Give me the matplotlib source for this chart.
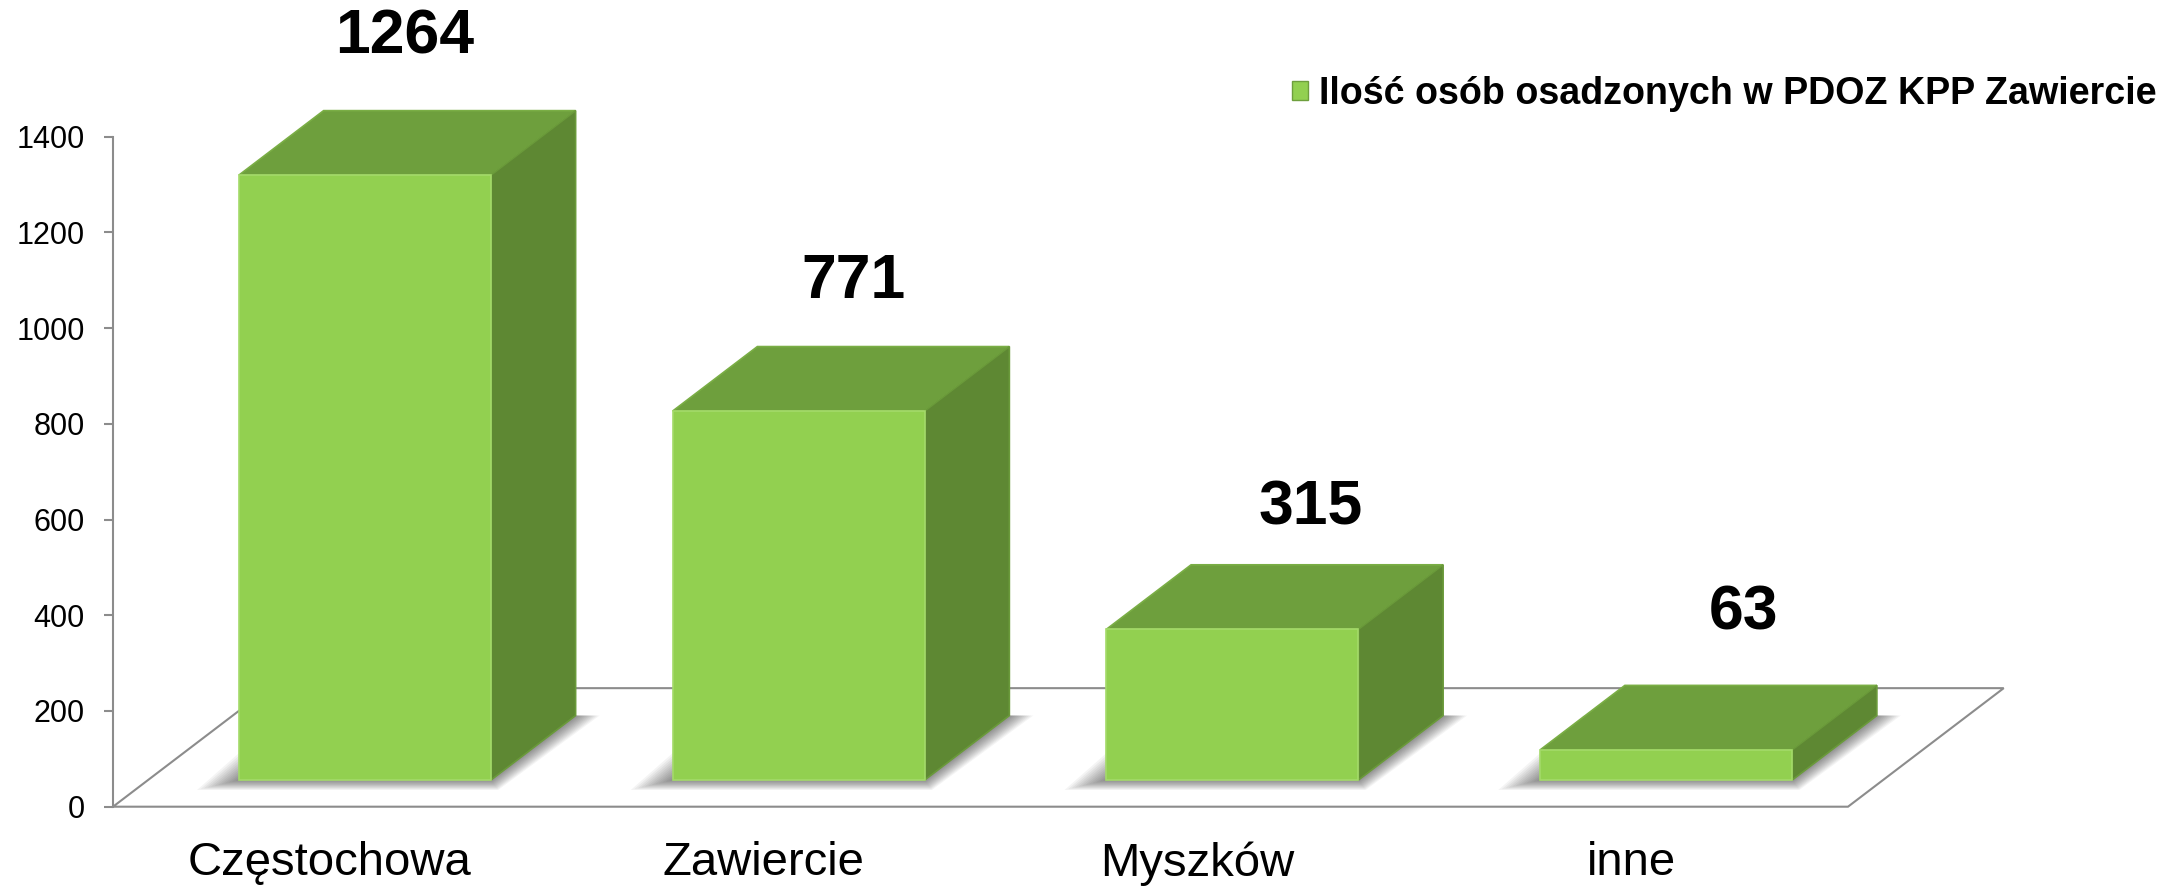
import matplotlib
matplotlib.use("Agg")
import matplotlib.pyplot as plt
from matplotlib.patches import Polygon, Patch

plt.rcParams["font.family"] = ["Liberation Sans", "DejaVu Sans"]

# data
categories = ["Częstochowa", "Zawiercie", "Myszków", "inne"]
values = [1264, 771, 315, 63]
series_name = "Ilość osób osadzonych w PDOZ KPP Zawiercie"
y_ticks = [0, 200, 400, 600, 800, 1000, 1200, 1400]

# colours of the three visible faces
front_col = "#92D050"
top_col = "#6E9F3D"
side_col = "#5E8833"
grey = "#8C8C8C"

# fake 3D geometry (oblique projection), in data units
depth_x = 0.359      # floor depth, x direction (category units)
depth_y = 247.7      # floor depth, y direction (value units)
front_f = 0.2255     # bar front plane, as fraction of floor depth
back_f = 0.769       # bar back plane
bar_w = 0.581
px_x = 1 / 433.8     # one pixel in category units
px_y = 1400 / 670.0  # one pixel in value units

# small manual nudges of the value labels (pixels), like in the original
label_dx = [-3, 12, 36, 35]
label_gap = [74, 65, 57, 72]

fig = plt.figure(figsize=(21.6, 8.88), dpi=100)
ax = fig.add_axes([113 / 2160, 1 - 806.7 / 888, 1735 / 2160, (806.7 - 136.7) / 888])
ax.set_xlim(-0.5, len(categories) - 0.5)
ax.set_ylim(0, 1400)

# floor of the 3D plot
x0, x1 = -0.5, len(categories) - 0.5
floor = Polygon([(x0, 0), (x1, 0), (x1 + depth_x, depth_y), (x0 + depth_x, depth_y)],
                closed=True, facecolor="white", edgecolor=grey, lw=1.5,
                clip_on=False, zorder=1)
ax.add_patch(floor)


# draws one box: shadow, front, top and side faces
def draw_box(i, v):
    fx, fy = front_f * depth_x, front_f * depth_y
    bx, by = back_f * depth_x, back_f * depth_y
    left = i - bar_w / 2
    right = i + bar_w / 2

    # soft shadow on the floor, many faint layers growing outwards
    n = 12
    for k in range(n, 0, -1):
        t = k / n
        L = 42 * t * px_x
        R = 24 * t * px_x
        D = 10 * t * px_y
        shadow = Polygon([(left + fx - L, fy - D), (right + fx + R * 0.3, fy - D),
                          (right + bx + R, by), (left + bx - L, by)],
                         closed=True, facecolor="black", edgecolor="none", alpha=0.045,
                         clip_on=False, zorder=2)
        ax.add_patch(shadow)

    front = Polygon([(left + fx, fy), (right + fx, fy), (right + fx, fy + v), (left + fx, fy + v)],
                    closed=True, facecolor=front_col, edgecolor="#A4DA6A", lw=1.2,
                    clip_on=False, zorder=4)
    top = Polygon([(left + fx, fy + v), (right + fx, fy + v),
                   (right + bx, by + v), (left + bx, by + v)],
                  closed=True, facecolor=top_col, edgecolor="#7AAE45", lw=1.2,
                  clip_on=False, zorder=3)
    side = Polygon([(right + fx, fy), (right + bx, by), (right + bx, by + v), (right + fx, fy + v)],
                   closed=True, facecolor=side_col, edgecolor="#6A9A3A", lw=1.2,
                   clip_on=False, zorder=3)
    for p in (top, side, front):
        ax.add_patch(p)

    # value label above the middle of the top face
    cx = i + (fx + bx) / 2
    ax.annotate(str(v), xy=(cx, by + v), xytext=(label_dx[i] * 0.72, label_gap[i] * 0.72),
                textcoords="offset points", ha="center", va="center",
                fontsize=45, fontweight="bold", color="black",
                annotation_clip=False, zorder=6)


for i, v in enumerate(values):
    draw_box(i, v)

# axes styling
for s in ["top", "right", "bottom"]:
    ax.spines[s].set_visible(False)
ax.spines["left"].set_color(grey)
ax.spines["left"].set_linewidth(1.5)
ax.set_yticks(y_ticks)
ax.tick_params(axis="y", direction="out", length=6.5, width=1.5, color=grey,
               labelsize=22, pad=14)
ax.set_xticks(range(len(categories)))
ax.set_xticklabels(categories, fontsize=34)
ax.tick_params(axis="x", length=0, pad=25)
ax.patch.set_visible(False)

# legend in the top right corner
handle = Patch(facecolor=front_col, edgecolor="#6E9F3D", lw=1)
fig.legend([handle], [series_name], loc="upper right", bbox_to_anchor=(2157 / 2160, 1 - 76 / 888),
           frameon=False, prop={"weight": "bold", "size": 27.1},
           handlelength=0.42, handleheight=0.42, handletextpad=0.3, borderpad=0,
           borderaxespad=0)

fig.savefig("out.png", dpi=100)
